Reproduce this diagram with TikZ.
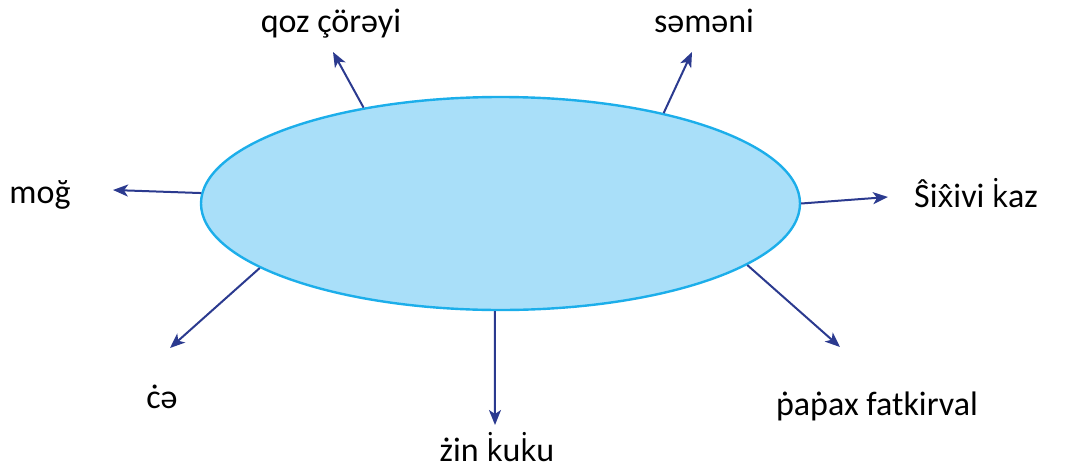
\documentclass[tikz,border=0pt]{standalone}
\usepackage{fontspec}
\setmainfont{Carlito}
\newfontfamily\notof{Noto Sans}
\usetikzlibrary{shapes.geometric,arrows.meta}
\definecolor{ellfill}{HTML}{A9DFF9}
\definecolor{elldraw}{HTML}{1CAEEA}
\definecolor{arrowc}{HTML}{2B3A8F}
\tikzset{
  lbl/.style={font=\fontsize{34}{40}\selectfont, inner sep=0pt, text=black, anchor=base},
  conn/.style={draw=arrowc, line width=2pt, -{Stealth[length=15pt,width=12pt,inset=4pt]}},
}
\newcommand{\kd}{{\notof\fontsize{30}{36}\selectfont k̇}}
\newcommand{\xh}{{\notof\fontsize{30}{36}\selectfont x̂}}
\begin{document}
\begin{tikzpicture}[x=1pt,y=-1pt]
\useasboundingbox (0,0) rectangle (1065,469);
\node[ellipse, draw=elldraw, fill=ellfill, line width=2.4pt, minimum width=599pt, minimum height=213pt, inner sep=0pt] (e) at (500.5,203.5) {};
\node[lbl] (qoz) at (331,32) {qoz çörəyi};
\node[lbl] (sem) at (704,32) {səməni};
\node[lbl] (mog) at (40,203) {moğ};
\node[lbl] (siz) at (976,207) {Ŝi\xh ivi \kd az};
\node[lbl] (ce) at (162,408) {ċə};
\node[lbl] (zin) at (497,461) {żin \kd u\kd u};
\node[lbl] (pap) at (877,415) {ṗaṗax fatkirval};
\coordinate (tqoz) at (333,52);
\coordinate (tsem) at (692,52);
\coordinate (tmog) at (113,190);
\coordinate (tsiz) at (888,197);
\coordinate (tce) at (170,348);
\coordinate (tzin) at (495,425);
\coordinate (tpap) at (840,347);
\draw[conn] (e.145.8) -- (tqoz);
\draw[conn] (e.29.6) -- (tsem);
\draw[conn] (e.178.9) -- (tmog);
\draw[conn] (e.0.7) -- (tsiz);
\draw[conn] (e.195.8) -- (tce);
\draw[conn] (e.267) -- (tzin);
\draw[conn] (e.346.9) -- (tpap);
\end{tikzpicture}
\end{document}
